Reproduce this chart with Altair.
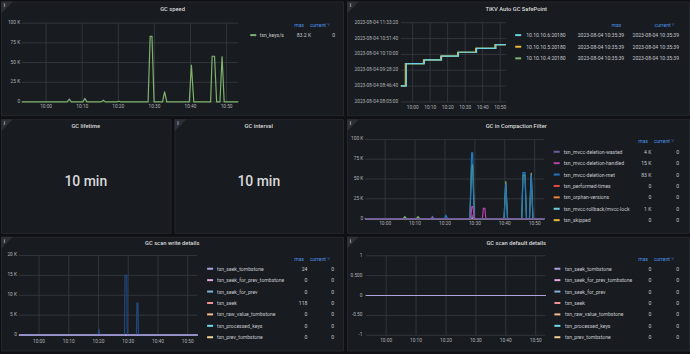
import altair as alt
import pandas as pd

# ---------------- data ----------------
DAY = "2023-08-04"
T_START, T_END = "09:53:15", "10:53:15"
X_TICKS = ["10:00:00", "10:10:00", "10:20:00", "10:30:00", "10:40:00", "10:50:00"]

# GC speed
speed_name = "txn_keys/s"
speed_t = ["09:53:15", "10:05:50", "10:06:25", "10:07:00", "10:10:10", "10:10:45", "10:11:20",
           "10:15:15", "10:15:50", "10:16:25", "10:19:40", "10:20:10", "10:20:40", "10:28:15",
           "10:28:50", "10:29:20", "10:29:55", "10:32:15", "10:32:50", "10:33:25", "10:39:40",
           "10:40:15", "10:40:55", "10:45:35", "10:46:00", "10:46:40", "10:47:15", "10:48:10",
           "10:48:45", "10:49:20", "10:53:15"]
speed_v = [0, 0, 3400, 0, 0, 4200, 0, 0, 2100, 0, 0, 800, 0, 0, 83200, 83200, 0, 0, 13000, 0,
           0, 47000, 0, 0, 58000, 58000, 0, 0, 58000, 0, 0]
speed_max = ["83.2 K"]
speed_cur = ["0"]
k_ticks = [0, 25000, 50000, 75000, 100000]
k_labels = ["0", "25 K", "50 K", "75 K", "100 K"]

# TiKV Auto GC SafePoint
sp_names = ["10.10.10.6:20180", "10.10.10.5:20180", "10.10.10.4:20180"]
sp_colors = ["#6ED0E0", "#EAB839", "#7EB26D"]
sp_t = ["09:53:15", "09:56:20", "10:06:40", "10:16:30", "10:26:10", "10:36:30", "10:47:30", "10:53:15"]
sp_t_early = ["09:53:15", "09:55:50", "10:06:10", "10:16:00", "10:25:40", "10:36:00", "10:47:00", "10:53:15"]
sp_v = ["08:47:00", "09:45:39", "09:55:39", "10:05:39", "10:15:39", "10:25:39", "10:35:39", "10:35:39"]
sp_max = ["2023-08-04 10:35:39"] * 3
sp_cur = ["2023-08-04 10:35:39"] * 3
sp_yticks = ["08:05:00", "08:46:40", "09:28:20", "10:10:00", "10:51:40", "11:33:20"]
sp_ylabels = ["2023-08-04 08:05:00", "2023-08-04 08:46:40", "2023-08-04 09:28:20",
              "2023-08-04 10:10:00", "2023-08-04 10:51:40", "2023-08-04 11:33:20"]

# GC lifetime / interval
lifetime_value = "10 min"
interval_value = "10 min"

# GC in Compaction Filter
cf_names = ["txn_mvcc-deletion-wasted", "txn_mvcc-deletion-handled", "txn_mvcc-deletion-met",
            "txn_performed-times", "txn_orphan-versions", "txn_mvcc-rollback/mvcc-lock", "txn_skipped"]
cf_colors = ["#705DA0", "#BA43A9", "#1F78C1", "#E24D42", "#EF843C", "#6ED0E0", "#EAB839"]
cf_max = ["4 K", "15 K", "83 K", "0", "0", "1 K", "0"]
cf_cur = ["0", "0", "0", "0", "0", "0", "0"]
cf_hidden = "txn_filtered"
cf_hidden_color = "#7EB26D"
cf_filtered_t = ["09:53:15", "10:06:00", "10:06:35", "10:07:10", "10:10:25", "10:11:00", "10:11:35",
                 "10:28:20", "10:28:55", "10:29:15", "10:29:50", "10:39:45", "10:40:20", "10:40:55",
                 "10:45:40", "10:46:05", "10:46:45", "10:47:15", "10:48:15", "10:48:50", "10:49:25",
                 "10:53:15"]
cf_filtered_v = [0, 0, 2500, 0, 0, 2500, 0, 0, 68000, 68000, 0, 0, 47000, 0, 0, 55000, 55000, 0,
                 0, 58000, 0, 0]
cf_met_t = ["09:53:15", "10:19:50", "10:20:20", "10:20:50", "10:28:20", "10:28:55", "10:29:15",
            "10:29:50", "10:39:45", "10:40:20", "10:40:55", "10:45:40", "10:46:05", "10:46:45",
            "10:47:15", "10:48:15", "10:48:50", "10:49:25", "10:53:15"]
cf_met_v = [0, 0, 4000, 0, 0, 83000, 83000, 0, 0, 44000, 0, 0, 58000, 58000, 0, 0, 55000, 0, 0]
cf_handled_t = ["09:53:15", "10:15:25", "10:15:50", "10:16:15", "10:28:35", "10:29:00", "10:29:25",
                "10:29:50", "10:32:30", "10:32:50", "10:33:20", "10:33:40", "10:53:15"]
cf_handled_v = [0, 0, 2000, 0, 0, 15000, 15000, 0, 0, 13000, 13000, 0, 0]
cf_wasted_t = ["09:53:15", "10:15:25", "10:15:50", "10:16:15", "10:28:40", "10:29:05", "10:29:40", "10:53:15"]
cf_wasted_v = [0, 0, 2500, 0, 0, 4000, 0, 0]
cf_rollback_t = ["09:53:15", "10:28:40", "10:29:05", "10:29:40", "10:53:15"]
cf_rollback_v = [0, 0, 1000, 0, 0]
flat_t = ["09:53:15", "10:53:15"]
flat_v = [0, 0]

# GC scan write / default details
scan_names = ["txn_seek_tombstone", "txn_seek_for_prev_tombstone", "txn_seek_for_prev", "txn_seek",
              "txn_raw_value_tombstone", "txn_processed_keys", "txn_prev_tombstone"]
scan_colors = ["#AEA2E0", "#E5A8E2", "#82B5D8", "#F29191", "#F9BA8F", "#70DBED", "#F4D598"]
sw_max = ["24", "0", "0", "118", "0", "0", "0"]
sw_cur = ["0", "0", "0", "0", "0", "0", "0"]
sw_hidden = "txn_next"
sw_hidden_color = "#21497f"
sw_next_t = ["09:53:15", "10:19:50", "10:20:10", "10:20:30", "10:28:45", "10:28:55", "10:29:30",
             "10:29:40", "10:32:45", "10:32:55", "10:33:15", "10:33:25", "10:53:15"]
sw_next_v = [0, 0, 1500, 0, 0, 15000, 15000, 0, 0, 8000, 8000, 0, 0]
sw_seek_t = ["09:53:15", "10:19:50", "10:20:10", "10:20:30", "10:53:15"]
sw_seek_v = [0, 0, 118, 0, 0]
sw_tomb_v = [0, 0, 24, 0, 0]
sw_yticks = [0, 5000, 10000, 15000, 20000]
sw_ylabels = ["0", "5 K", "10 K", "15 K", "20 K"]
sd_max = ["0", "0", "0", "0", "0", "0", "0"]
sd_cur = ["0", "0", "0", "0", "0", "0", "0"]
sd_yticks = [-1, -0.5, 0, 0.5, 1]
sd_ylabels = ["-1", "-0.50", "0", "0.500", "1"]

# ---------------- style ----------------
FONT = "Roboto"
BG = "#0f1013"
PANEL = "#181b1f"
BORDER = "#24272c"
GRID = "#393c42"
TITLE_C = "#d8d9da"
TXT = "#c7c9cf"
AXC = "#b0b3b9"
HDR = "#4b93e6"
AXS = 4.8
LGS = 5.1
TS = 5.8


def dt(hms):
    h, m, s = [int(p) for p in hms.split(":")]
    return alt.DateTime(year=2023, month=8, date=4, hours=h, minutes=m, seconds=s)


def ts(hms):
    return pd.Timestamp(f"{DAY} {hms}")


def long_df(series, temporal_values=False):
    rows = []
    for name, tt, vv in series:
        for t, v in zip(tt, vv):
            rows.append({"name": name, "t": ts(t), "v": ts(v) if temporal_values else v})
    return pd.DataFrame(rows)


ONE = pd.DataFrame({"k": [0]})


def corner():
    tri = alt.Chart(ONE).mark_point(shape="M-1,-1L1,-1L-1,1Z", size=144, filled=True,
                                    color="#2c2f35", opacity=1, strokeWidth=0).encode(
        x=alt.value(6), y=alt.value(6))
    ii = alt.Chart(ONE).mark_text(text="i", fontSize=5, color="#b4b7bc", font=FONT,
                                  fontWeight="bold").encode(x=alt.value(3.3), y=alt.value(4))
    return [tri, ii]


def title_mark(text, x, y):
    return alt.Chart(ONE).mark_text(text=text, fontSize=TS, fontWeight=500, color=TITLE_C, font=FONT,
                                    align="center", baseline="middle").encode(
        x=alt.value(x), y=alt.value(y))


def graph_panel(g, title, df, names_all, colors_all, ydom, yticks, ylabels, leg_names, leg_max, leg_cur,
                ytime=False, interp="linear"):
    W, H = g["W"], g["H"]
    xr, yr = g["xr"], g["yr"]
    xscale = alt.Scale(domain=[dt(T_START), dt(T_END)], range=xr, nice=False)
    if ytime:
        yscale = alt.Scale(domain=[dt(ydom[0]), dt(ydom[1])], range=yr, nice=False)
        ytype = "T"
        yvals = [ts(v) for v in yticks]
        ylo, yhi = ts(ydom[0]), ts(ydom[1])
    else:
        yscale = alt.Scale(domain=ydom, range=yr, nice=False, zero=False)
        ytype = "Q"
        yvals = yticks
        ylo, yhi = ydom

    xdf = pd.DataFrame({"t": [ts(t) for t in X_TICKS], "lo": ylo, "hi": yhi})
    ydf = pd.DataFrame({"v": yvals, "lab": ylabels, "a": ts(T_START), "b": ts(T_END)})

    X = alt.X("t:T", scale=xscale, axis=None)
    vgrid = alt.Chart(xdf).mark_rule(color=GRID, strokeWidth=0.8).encode(
        x=X, y=alt.Y(f"hi:{ytype}", scale=yscale, axis=None), y2="lo")
    xlab = alt.Chart(xdf).mark_text(font=FONT, fontSize=AXS, color=AXC, baseline="middle",
                                    align="center").encode(
        x=X, y=alt.value(g["xly"]), text=alt.Text("t:T", format="%H:%M"))
    hgrid = alt.Chart(ydf).mark_rule(color=GRID, strokeWidth=0.8).encode(
        y=alt.Y(f"v:{ytype}", scale=yscale, axis=None),
        x=alt.X("a:T", scale=xscale, axis=None), x2="b")
    ylab = alt.Chart(ydf).mark_text(font=FONT, fontSize=AXS, color=AXC, baseline="middle",
                                    align="right").encode(
        y=alt.Y(f"v:{ytype}", scale=yscale, axis=None), x=alt.value(xr[0] - g["ylp"]), text="lab:N")
    cscale = alt.Scale(domain=names_all, range=colors_all)
    lines = alt.Chart(df).mark_line(strokeWidth=1.2, interpolate=interp).encode(
        x=X, y=alt.Y(f"v:{ytype}", scale=yscale, axis=None),
        color=alt.Color("name:N", scale=cscale, legend=None))
    graph = alt.layer(vgrid, hgrid, xlab, ylab, lines)

    n = len(leg_names)
    ldf = pd.DataFrame({"name": leg_names, "mx": leg_max, "cur": leg_cur})
    ly = alt.Y("name:N", scale=alt.Scale(type="point", domain=leg_names,
                                          range=[g["y0"], g["y0"] + g["dy"] * (n - 1)], padding=0),
               axis=None)
    base = alt.Chart(ldf)
    txt = dict(baseline="middle", font=FONT, fontSize=LGS, color=TXT)
    sw = base.mark_rule(strokeWidth=2).encode(
        x=alt.value(g["s0"]), x2=alt.value(g["s1"]), y=ly,
        color=alt.Color("name:N", scale=cscale, legend=None))
    nm = base.mark_text(align="left", **txt).encode(x=alt.value(g["nx"]), y=ly, text="name:N")
    mx = base.mark_text(align="right", **txt).encode(x=alt.value(g["mx"]), y=ly, text="mx:N")
    cu = base.mark_text(align="right", **txt).encode(x=alt.value(g["cu"]), y=ly, text="cur:N")
    h1 = alt.Chart(ONE).mark_text(text="max", align="right", baseline="middle", font=FONT,
                                  fontSize=LGS, color=HDR).encode(x=alt.value(g["hmx"]), y=alt.value(g["hy"]))
    h2 = alt.Chart(ONE).mark_text(text="current ˅", align="right", baseline="middle", font=FONT,
                                  fontSize=LGS, color=HDR).encode(x=alt.value(g["hcu"]), y=alt.value(g["hy"]))
    legend = alt.layer(sw, nm, mx, cu, h1, h2)

    return alt.layer(graph, legend, title_mark(title, g["tx"], g["ty"]), *corner()).resolve_scale(
        x="independent", y="independent").properties(width=W, height=H)


def stat_panel(W, H, title, ty, value, vy):
    val = alt.Chart(ONE).mark_text(text=value, fontSize=14, font=FONT, color="#d8d9da", fontWeight=500,
                                   align="center", baseline="middle").encode(x=alt.value(W / 2), y=alt.value(vy))
    return alt.layer(title_mark(title, W / 2, ty), val, *corner()).properties(width=W, height=H)


G1 = dict(W=343, H=114, tx=172, ty=8, xr=[20.8, 238], yr=[100.7, 21.7], xly=106, ylp=1.6,
          hy=24, y0=33.7, dy=11.6, s0=250, s1=256, nx=259.5, mx=311, cu=335, hmx=304, hcu=330)
G2 = dict(W=343, H=114, tx=169.7, ty=8, xr=[54, 159.3], yr=[100.7, 21.3], xly=107.3, ylp=2.7,
          hy=24, y0=33.7, dy=11.65, s0=168.7, s1=174.7, nx=179.7, mx=278, cu=333, hmx=275, hcu=328.7)
G4 = dict(W=343, H=114, tx=169.7, ty=6.7, xr=[18, 198], yr=[99.7, 20.3], xly=104.7, ylp=1.7,
          hy=22, y0=32.7, dy=11.43, s0=207.3, s1=213.3, nx=217.3, mx=305.3, cu=333, hmx=302, hcu=328)
G5 = dict(W=343, H=114, tx=171.7, ty=6.3, xr=[18, 197], yr=[98.5, 18.7], xly=105.3, ylp=2,
          hy=22, y0=32, dy=11.45, s0=206.7, s1=212.7, nx=216.7, mx=307.3, cu=334, hmx=304, hcu=330)
G6 = dict(W=343, H=114, tx=169.7, ty=6.3, xr=[19, 199], yr=[98.7, 19], xly=104.7, ylp=3.5,
          hy=22, y0=32, dy=11.45, s0=208, s1=214, nx=218.7, mx=305.3, cu=333, hmx=302, hcu=328)

# panel 1
df1 = long_df([(speed_name, speed_t, speed_v)])
p1 = graph_panel(G1, "GC speed", df1, [speed_name], ["#7EB26D"], [0, 100000], k_ticks, k_labels,
                 [speed_name], speed_max, speed_cur)

# panel 2
df2 = long_df([(sp_names[1], sp_t_early, sp_v), (sp_names[2], sp_t, sp_v), (sp_names[0], sp_t, sp_v)],
              temporal_values=True)
p2 = graph_panel(G2, "TiKV Auto GC SafePoint", df2, sp_names, sp_colors, ["08:05:00", "11:33:20"],
                 sp_yticks, sp_ylabels, sp_names, sp_max, sp_cur, ytime=True, interp="step-after")

# stat panels
p3a = stat_panel(170, 114, "GC lifetime", 6.7, lifetime_value, 63.3)
p3b = stat_panel(169, 114, "GC interval", 6.7, interval_value, 63.3)

# panel 4
cf_all_names = cf_names + [cf_hidden]
cf_all_colors = cf_colors + [cf_hidden_color]
df4 = long_df([
    (cf_names[6], flat_t, flat_v), (cf_names[4], flat_t, flat_v), (cf_names[3], flat_t, flat_v),
    (cf_names[5], cf_rollback_t, cf_rollback_v), (cf_hidden, cf_filtered_t, cf_filtered_v),
    (cf_names[2], cf_met_t, cf_met_v), (cf_names[1], cf_handled_t, cf_handled_v),
    (cf_names[0], cf_wasted_t, cf_wasted_v)])
p4 = graph_panel(G4, "GC in Compaction Filter", df4, cf_all_names, cf_all_colors, [0, 100000], k_ticks,
                 k_labels, cf_names, cf_max, cf_cur)

# panel 5
sw_all_names = scan_names + [sw_hidden]
sw_all_colors = scan_colors + [sw_hidden_color]
df5 = long_df([
    (scan_names[6], flat_t, flat_v), (scan_names[5], flat_t, flat_v), (scan_names[4], flat_t, flat_v),
    (scan_names[3], sw_seek_t, sw_seek_v), (scan_names[2], flat_t, flat_v), (scan_names[1], flat_t, flat_v),
    (sw_hidden, sw_next_t, sw_next_v), (scan_names[0], sw_seek_t, sw_tomb_v)])
p5 = graph_panel(G5, "GC scan write details", df5, sw_all_names, sw_all_colors, [0, 20000], sw_yticks,
                 sw_ylabels, scan_names, sw_max, sw_cur)

# panel 6
df6 = long_df([(nm_, flat_t, flat_v) for nm_ in reversed(scan_names)])
p6 = graph_panel(G6, "GC scan default details", df6, scan_names, scan_colors, [-1, 1], sd_yticks,
                 sd_ylabels, scan_names, sd_max, sd_cur)

IND = dict(color="independent", x="independent", y="independent")
row1 = alt.hconcat(p1, p2, spacing=4, bounds="flush").resolve_scale(**IND)
row2 = alt.hconcat(p3a, p3b, p4, spacing=4, bounds="flush").resolve_scale(**IND)
row3 = alt.hconcat(p5, p6, spacing=4, bounds="flush").resolve_scale(**IND)
chart = alt.vconcat(row1, row2, row3, spacing=2).resolve_scale(**IND).properties(
    padding={"left": 0, "right": 0, "top": 0, "bottom": 3}, background=BG
).configure_view(fill=PANEL, stroke=BORDER, strokeWidth=1)

chart.save("out.html", embed_options={"renderer": "svg", "actions": False})
